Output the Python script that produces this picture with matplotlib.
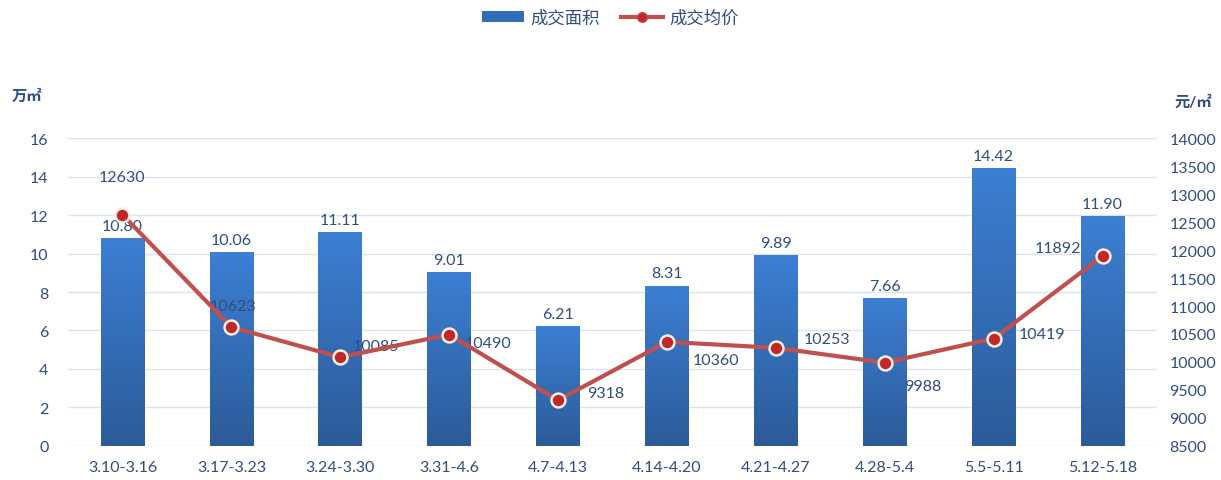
import numpy as np
import matplotlib
matplotlib.use('Agg')
import matplotlib.pyplot as plt
from matplotlib.colors import LinearSegmentedColormap
from matplotlib.lines import Line2D
from matplotlib.patches import Patch

plt.rcParams['font.family'] = ['Lato', 'Noto Sans CJK SC', 'DejaVu Sans']

# ------------------------
# data
# ------------------------
weeks = ['3.10-3.16', '3.17-3.23', '3.24-3.30', '3.31-4.6', '4.7-4.13',
         '4.14-4.20', '4.21-4.27', '4.28-5.4', '5.5-5.11', '5.12-5.18']
area = [10.80, 10.06, 11.11, 9.01, 6.21, 8.31, 9.89, 7.66, 14.42, 11.90]
price = [12630, 10623, 10085, 10490, 9318, 10360, 10253, 9988, 10419, 11892]

# label offsets (points) for the price labels
price_offsets = [(0, 27), (1, 15), (26, 8), (28, -6), (34, 5),
                 (35, -13), (37, 6), (27, -17), (35, 3), (-32, 6)]

txt = '#2f4f7f'
grid_c = '#d9e3f1'
line_c = '#c0504d'

fig = plt.figure(figsize=(12.21, 4.81), dpi=100)
ax = fig.add_axes([0.0557, 0.0707, 0.8919, 0.6403])
ax2 = ax.twinx()

x = np.arange(len(weeks))
bars = ax.bar(x, area, width=0.4, color='none', zorder=2)
cmap = LinearSegmentedColormap.from_list('bl', ['#2c5b98', '#3c7fd3'])
grad = np.linspace(0, 1, 256).reshape(-1, 1)
for r in bars:
    bx, bw, bh = r.get_x(), r.get_width(), r.get_height()
    ax.imshow(grad, cmap=cmap, origin='lower', aspect='auto',
              extent=[bx, bx + bw, 0, bh], zorder=2)
for xi, v in zip(x, area):
    ax.annotate('%.2f' % v, (xi, v), xytext=(0, 4), textcoords='offset points',
                ha='center', va='bottom', fontsize=11.5, color=txt, zorder=5)

ax.set_xlim(-0.5, len(weeks) - 0.5)
ax.set_ylim(0, 16)
ax.set_yticks(range(0, 17, 2))
ax.grid(axis='y', color=grid_c, lw=1)
ax.set_axisbelow(True)
ax.set_xticks(x)
ax.set_xticklabels(weeks)

ax2.plot(x, price, color=line_c, lw=3, marker='o', ms=10,
         mfc='#c0282a', mec='#f3ede4', mew=1.8, zorder=4)
for xi, v, off in zip(x, price, price_offsets):
    ax2.annotate(str(v), (xi, v), xytext=off, textcoords='offset points',
                 ha='center', va='center', fontsize=11.5, color=txt)
ax2.set_ylim(8500, 14000)
ax2.set_yticks(range(8500, 14001, 500))

for a in (ax, ax2):
    for s in a.spines.values():
        s.set_visible(False)
    a.tick_params(length=0, labelsize=11.5, labelcolor=txt)
ax.tick_params(axis='y', pad=14)
ax.tick_params(axis='x', pad=10)
ax2.tick_params(axis='y', pad=9)

fig.text(0.010, 0.798, '万㎡', fontsize=11, fontweight='bold', color=txt, va='center')
fig.text(0.962, 0.786, '元/㎡', fontsize=11, fontweight='bold', color=txt, va='center')

handles = [Patch(facecolor='#336cb8', edgecolor='none'),
           Line2D([], [], color=line_c, lw=3, marker='o', ms=7,
                  mfc='#c0282a', mec=line_c)]
fig.legend(handles, ['成交面积', '成交均价'], loc='center', bbox_to_anchor=(0.5, 0.962),
           ncol=2, frameon=False, fontsize=12.5, labelcolor=txt,
           handlelength=2.4, handleheight=0.6, columnspacing=1.2, handletextpad=0.4)

fig.savefig('out.png', dpi=100)
